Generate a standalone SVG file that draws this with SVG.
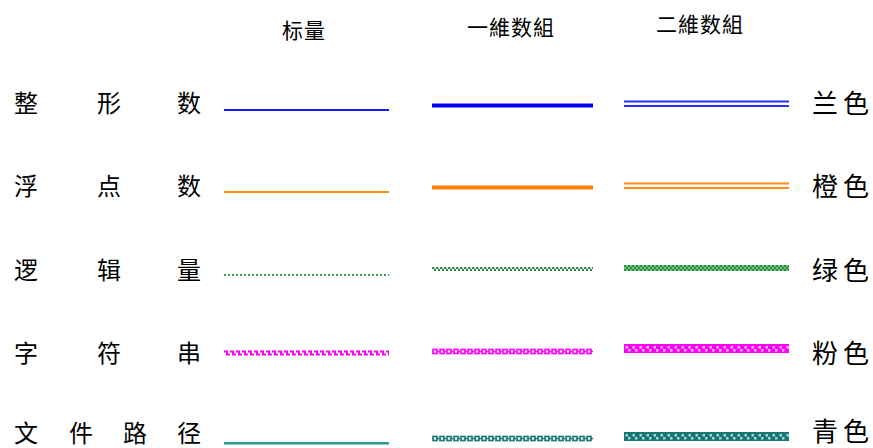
<svg xmlns="http://www.w3.org/2000/svg" width="873" height="448" viewBox="0 0 873 448">
<style>
.hd{font-family:"Noto Sans CJK SC","Noto Sans",sans-serif;font-size:21px;letter-spacing:1px;fill:#000}
.lb{font-family:"Noto Sans CJK SC","Noto Sans",sans-serif;font-size:24px;fill:#000}
.rl{font-family:"Noto Sans CJK SC","Noto Sans",sans-serif;font-size:26px;fill:#000}
</style>
<defs>
<pattern id="gz1" x="432" y="267" width="4" height="4" patternUnits="userSpaceOnUse">
<rect x="0" y="0" width="2.5" height="2" fill="#2f8f40"/><rect x="2" y="2" width="2.5" height="2" fill="#2f8f40"/>
</pattern>
<pattern id="gz2" x="624" y="265" width="4" height="4" patternUnits="userSpaceOnUse">
<rect x="0" y="0" width="4" height="4" fill="#6fbf7c"/>
<rect x="0" y="0" width="2" height="2" fill="#2f8f40"/><rect x="2" y="2" width="2" height="2" fill="#2f8f40"/>
</pattern>
<pattern id="pw" x="224" y="350" width="6" height="6" patternUnits="userSpaceOnUse">
<path d="M0 1.5H3V4.5H6" fill="none" stroke="#ff00ff" stroke-width="2"/>
</pattern>
<pattern id="pc" x="432" y="348" width="7" height="8" patternUnits="userSpaceOnUse">
<rect x="1" y="1.5" width="4" height="4" fill="none" stroke="#ff00ff" stroke-width="1.7"/>
<path d="M5 3.5H8" stroke="#ff00ff" stroke-width="1.7"/>
</pattern>
<pattern id="p2" x="624" y="344" width="7" height="9" patternUnits="userSpaceOnUse">
<rect x="0" y="0" width="7" height="9" fill="#ff00ff"/>
<rect x="1.5" y="2" width="2.5" height="2.5" fill="#ffc0ff"/>
<rect x="4" y="5" width="2.5" height="2.5" fill="#ffc0ff"/>
</pattern>
<pattern id="tc" x="432" y="435" width="7" height="8" patternUnits="userSpaceOnUse">
<rect x="1" y="1.5" width="4" height="4" fill="none" stroke="#177873" stroke-width="1.7"/>
<path d="M5 3.5H8" stroke="#177873" stroke-width="1.7"/>
</pattern>
<pattern id="t2" x="624" y="432" width="7" height="9" patternUnits="userSpaceOnUse">
<rect x="0" y="0" width="7" height="9" fill="#177873"/>
<rect x="1.5" y="2" width="2.5" height="2.5" fill="#a8d6d3"/>
<rect x="4" y="5" width="2.5" height="2.5" fill="#a8d6d3"/>
</pattern>
</defs>

<g id="headers">
<text class="hd" x="304" y="38" text-anchor="middle">标量</text>
<text class="hd" x="511" y="35" text-anchor="middle">一維数組</text>
<text class="hd" x="700" y="32" text-anchor="middle">二維数組</text>
</g>

<g id="row-int">
<text class="lb" x="14 97 177" y="112">整形数</text>
<text class="rl" x="812 843" y="113">兰色</text>
<rect x="224" y="109" width="165" height="2" fill="#1a1aff"/>
<rect x="432" y="103.5" width="161" height="4" fill="#0000ff"/>
<rect x="624" y="100.5" width="165" height="2" fill="#2a2aff"/>
<rect x="624" y="105" width="165" height="2" fill="#2a2aff"/>
</g>

<g id="row-float">
<text class="lb" x="14 97 177" y="195">浮点数</text>
<text class="rl" x="812 843" y="196">橙色</text>
<rect x="224" y="191" width="165" height="2" fill="#ff8a1a"/>
<rect x="432" y="185.5" width="161" height="4" fill="#ff7f00"/>
<rect x="624" y="182.5" width="165" height="2" fill="#ff8a1a"/>
<rect x="624" y="187" width="165" height="2" fill="#ff8a1a"/>
</g>

<g id="row-bool">
<text class="lb" x="14 97 177" y="279">逻辑量</text>
<text class="rl" x="812 843" y="280">绿色</text>
<line x1="224" y1="275" x2="389" y2="275" stroke="#3a9a4a" stroke-width="2" stroke-dasharray="2 2"/>
<rect x="432" y="267" width="161" height="4" fill="url(#gz1)"/>
<rect x="624" y="265" width="165" height="6" fill="url(#gz2)"/>
</g>

<g id="row-string">
<text class="lb" x="14 97 177" y="362">字符串</text>
<text class="rl" x="812 843" y="363">粉色</text>
<rect x="224" y="350" width="165" height="6" fill="url(#pw)"/>
<rect x="432" y="348" width="161" height="8" fill="url(#pc)"/>
<rect x="624" y="344" width="165" height="9" fill="url(#p2)"/>
</g>

<g id="row-path">
<text class="lb" x="14 69 123 177" y="442">文件路径</text>
<text class="rl" x="812 843" y="441">青色</text>
<rect x="224" y="442" width="165" height="2.5" fill="#2a9a92"/>
<rect x="432" y="435" width="161" height="8" fill="url(#tc)"/>
<rect x="624" y="432" width="165" height="9" fill="url(#t2)"/>
</g>
</svg>
